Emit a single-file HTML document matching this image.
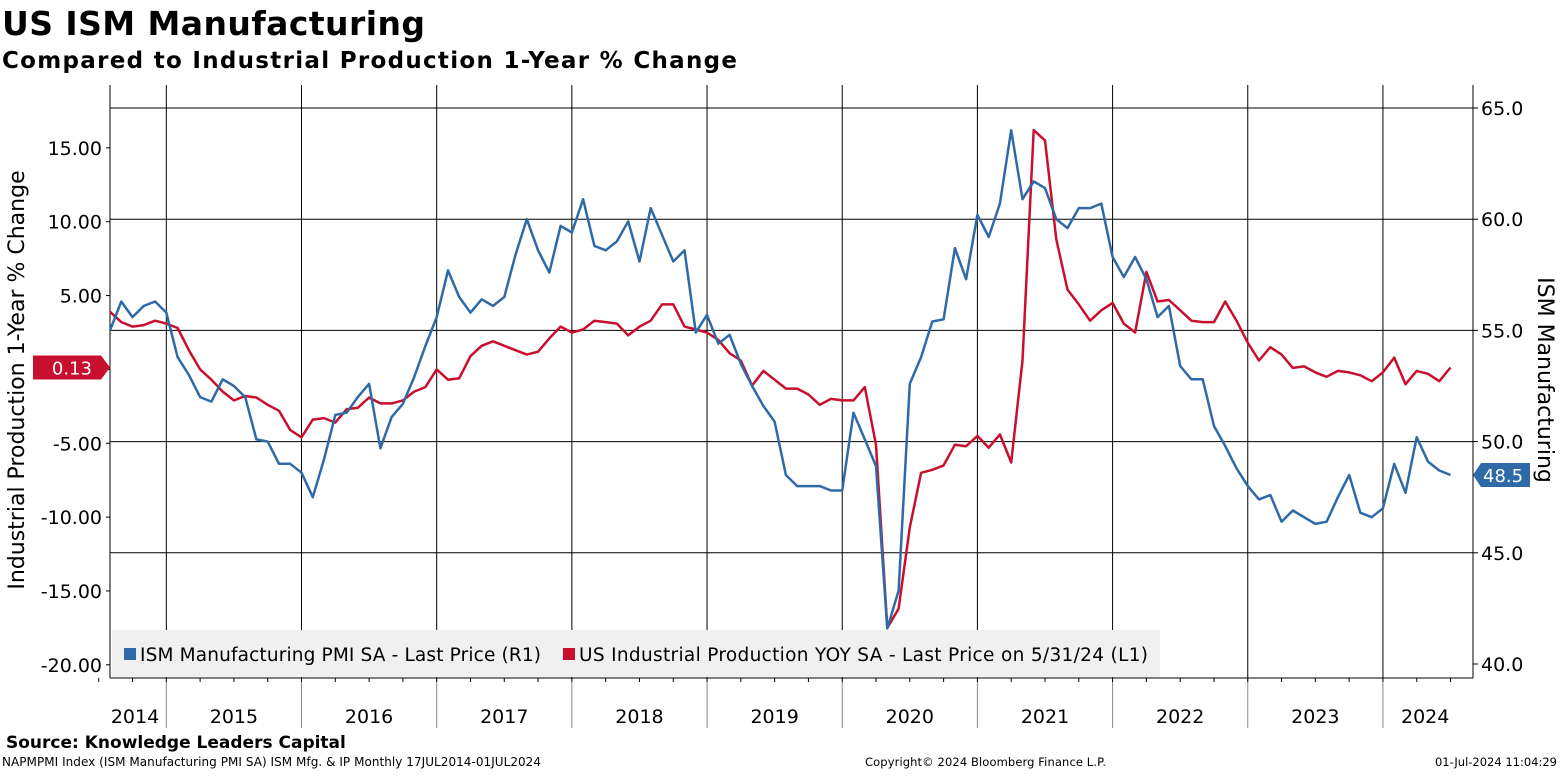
<!DOCTYPE html>
<html><head><meta charset="utf-8"><style>
body{margin:0;background:#fff;}
svg text{font-family:"DejaVu Sans","Liberation Sans",sans-serif;}
</style></head><body>
<svg id="c" width="1561" height="771" xmlns="http://www.w3.org/2000/svg">
<text x="2" y="35" font-size="33" font-weight="bold" textLength="423">US ISM Manufacturing</text>
<text x="2" y="68" font-size="23" font-weight="bold" textLength="735">Compared to Industrial Production 1-Year % Change</text>
<g id="grid"></g>
<g id="axes"></g>
<g id="series"></g>
<rect x="112" y="630" width="1048" height="47" fill="#f0f0f0"/>
<rect x="124" y="648" width="12" height="12" fill="#2f6aa8"/>
<text x="140" y="661" font-size="18.5" textLength="401">ISM Manufacturing PMI SA - Last Price (R1)</text>
<rect x="563" y="648" width="12" height="12" fill="#c8102e"/>
<text x="579" y="661" font-size="18.5" textLength="569">US Industrial Production YOY SA - Last Price on 5/31/24 (L1)</text>
<text transform="translate(24,380) rotate(-90)" text-anchor="middle" font-size="22">Industrial Production 1-Year % Change</text>
<text transform="translate(1538,380) rotate(90)" text-anchor="middle" font-size="22">ISM Manufacturing</text>
<text x="6" y="748" font-size="17" font-weight="bold">Source: Knowledge Leaders Capital</text>
<text x="2" y="766" font-size="12" textLength="539">NAPMPMI Index (ISM Manufacturing PMI SA) ISM Mfg. &amp; IP  Monthly 17JUL2014-01JUL2024</text>
<text x="865" y="766" font-size="11.5" textLength="241">Copyright© 2024 Bloomberg Finance L.P.</text>
<text x="1557" y="766" font-size="11.5" text-anchor="end">01-Jul-2024 11:04:29</text>
<g id="badges"></g>
</svg>
<script>
const ism=[55.0,56.3,55.6,56.1,56.3,55.8,53.8,53.0,52.0,51.8,52.8,52.5,52.0,50.1,50.0,49.0,49.0,48.6,47.5,49.2,51.2,51.3,52.0,52.6,49.7,51.1,51.7,52.9,54.3,55.6,57.7,56.5,55.8,56.4,56.1,56.5,58.4,60.0,58.6,57.6,59.7,59.4,60.9,58.8,58.6,59.0,59.9,58.1,60.5,59.3,58.1,58.6,54.9,55.7,54.4,54.8,53.5,52.5,51.6,50.9,48.5,48.0,48.0,48.0,47.8,47.8,51.3,50.1,48.9,41.6,43.3,52.6,53.8,55.4,55.5,58.7,57.3,60.2,59.2,60.7,64.0,60.9,61.7,61.4,60.0,59.6,60.5,60.5,60.7,58.3,57.4,58.3,57.3,55.6,56.1,53.4,52.8,52.8,50.7,49.8,48.8,48.0,47.4,47.6,46.4,46.9,46.6,46.3,46.4,47.5,48.5,46.8,46.6,47.0,49.0,47.7,50.2,49.1,48.7,48.5];
const ip=[3.9,3.2,2.9,3.0,3.3,3.1,2.8,1.3,0,-0.7,-1.5,-2.1,-1.8,-1.9,-2.4,-2.8,-4.1,-4.6,-3.4,-3.3,-3.6,-2.7,-2.6,-1.9,-2.3,-2.3,-2.1,-1.5,-1.2,0,-0.7,-0.6,0.9,1.6,1.9,1.6,1.3,1.0,1.2,2.1,2.9,2.5,2.7,3.3,3.2,3.1,2.3,2.9,3.3,4.4,4.4,2.9,2.7,2.5,2.0,1.1,0.6,-1.1,-0.1,-0.7,-1.3,-1.3,-1.7,-2.4,-2.0,-2.1,-2.1,-1.2,-5.1,-17.5,-16.2,-10.7,-7.0,-6.8,-6.5,-5.1,-5.2,-4.5,-5.3,-4.4,-6.3,0.6,16.2,15.5,8.8,5.4,4.4,3.3,4.0,4.5,3.1,2.5,6.6,4.6,4.7,4.0,3.3,3.2,3.2,4.6,3.3,1.8,0.6,1.5,1.0,0.1,0.2,-0.2,-0.5,-0.1,-0.2,-0.4,-0.8,-0.2,0.8,-1.0,-0.1,-0.3,-0.8,0.13];
const years=["2014","2015","2016","2017","2018","2019","2020","2021","2022","2023","2024"];
const leftTicks=[15,10,5,0,-5,-10,-15,-20];
const leftLabels=["15.00","10.00","5.00","","-5.00","-10.00","-15.00","-20.00"];
const rightTicks=[65,60,55,50,45,40];
const NS="http://www.w3.org/2000/svg";
const L=110,R=1473,T=85,B=678,DX=11.265;
const xm=i=>L+i*DX;
const yR=v=>108+(65-v)*22.24;
const yL=v=>369.4-v*14.77;
function mk(tag,attrs,parent,txt){const e=document.createElementNS(NS,tag);for(const k in attrs)e.setAttribute(k,attrs[k]);if(txt!==undefined)e.textContent=txt;document.getElementById(parent).appendChild(e);return e;}
rightTicks.forEach(v=>{if(v>40){const e=mk('line',{x1:L,x2:R,y1:yR(v),y2:yR(v),stroke:'#000','stroke-width':1},'grid');

}});
const yb=k=>5+(k-1)*12;
for(let k=1;k<years.length;k++){const x=xm(yb(k));const e=mk('line',{x1:x,x2:x,y1:T,y2:B,stroke:'#000','stroke-width':1},'grid');


const e2=mk('line',{x1:x,x2:x,y1:B,y2:728,stroke:'#888','stroke-width':1},'grid');

}
years.forEach((y,k)=>{let a=k==0?-0.5:yb(k),b=k==years.length-1?120.5:yb(k+1);const x=(xm(a)+xm(b))/2;
const t=mk('text',{x:k==0?135:x,y:723,'font-size':19,'text-anchor':'middle'},'axes',y);

});
for(let m=-1;m<=120;m+=3){const x=xm(m);const e=mk('line',{x1:x,x2:x,y1:B,y2:B+4,stroke:'#000'},'axes');

}
let a1=mk('line',{x1:L,x2:L,y1:T,y2:B,stroke:'#000'},'axes');
let a2=mk('line',{x1:R,x2:R,y1:T,y2:B,stroke:'#000'},'axes');
let a3=mk('line',{x1:L,x2:R,y1:B,y2:B,stroke:'#000'},'axes');
leftTicks.forEach((v,i)=>{const y=yL(v);mk('line',{x1:L-4,x2:L,y1:y,y2:y,stroke:'#000'},'axes');
if(leftLabels[i]){const t=mk('text',{x:L-8,y:y+7,'font-size':19,'text-anchor':'end'},'axes',leftLabels[i]);

}});
rightTicks.forEach(v=>{const y=yR(v);mk('line',{x1:R,x2:R+5,y1:y,y2:y,stroke:'#000'},'axes');
const t=mk('text',{x:R+8,y:y+7,'font-size':19},'axes',v.toFixed(1));

});
const pIp=ip.map((v,i)=>xm(i).toFixed(1)+','+yL(v).toFixed(1)).join(' ');
const sIp=mk('polyline',{points:pIp,fill:'none',stroke:'#c8102e','stroke-width':2.5,'stroke-linejoin':'round'},'series');


const pIsm=ism.map((v,i)=>xm(i).toFixed(1)+','+yR(v).toFixed(1)).join(' ');
const sIsm=mk('polyline',{points:pIsm,fill:'none',stroke:'#2f6aa8','stroke-width':2.5,'stroke-linejoin':'round'},'series');


const lastIp=ip[ip.length-1],ybb=yL(lastIp);
const b1=mk('path',{d:`M33 ${ybb-12} H101 L110 ${ybb} L101 ${ybb+12} H33 Z`,fill:'#c8102e'},'badges');


const t1=mk('text',{x:92,y:ybb+7,'font-size':18,fill:'#fff','text-anchor':'end'},'badges',lastIp.toFixed(2));


const lastIsm=ism[ism.length-1],yb2=yR(lastIsm);
const b2=mk('path',{d:`M${R} ${yb2} L${R+8} ${yb2-12} H1530 V${yb2+12} H${R+8} Z`,fill:'#2f6aa8'},'badges');


const t2=mk('text',{x:1483,y:yb2+7,'font-size':18,fill:'#fff'},'badges',lastIsm.toFixed(1));


</script>
</body></html>
